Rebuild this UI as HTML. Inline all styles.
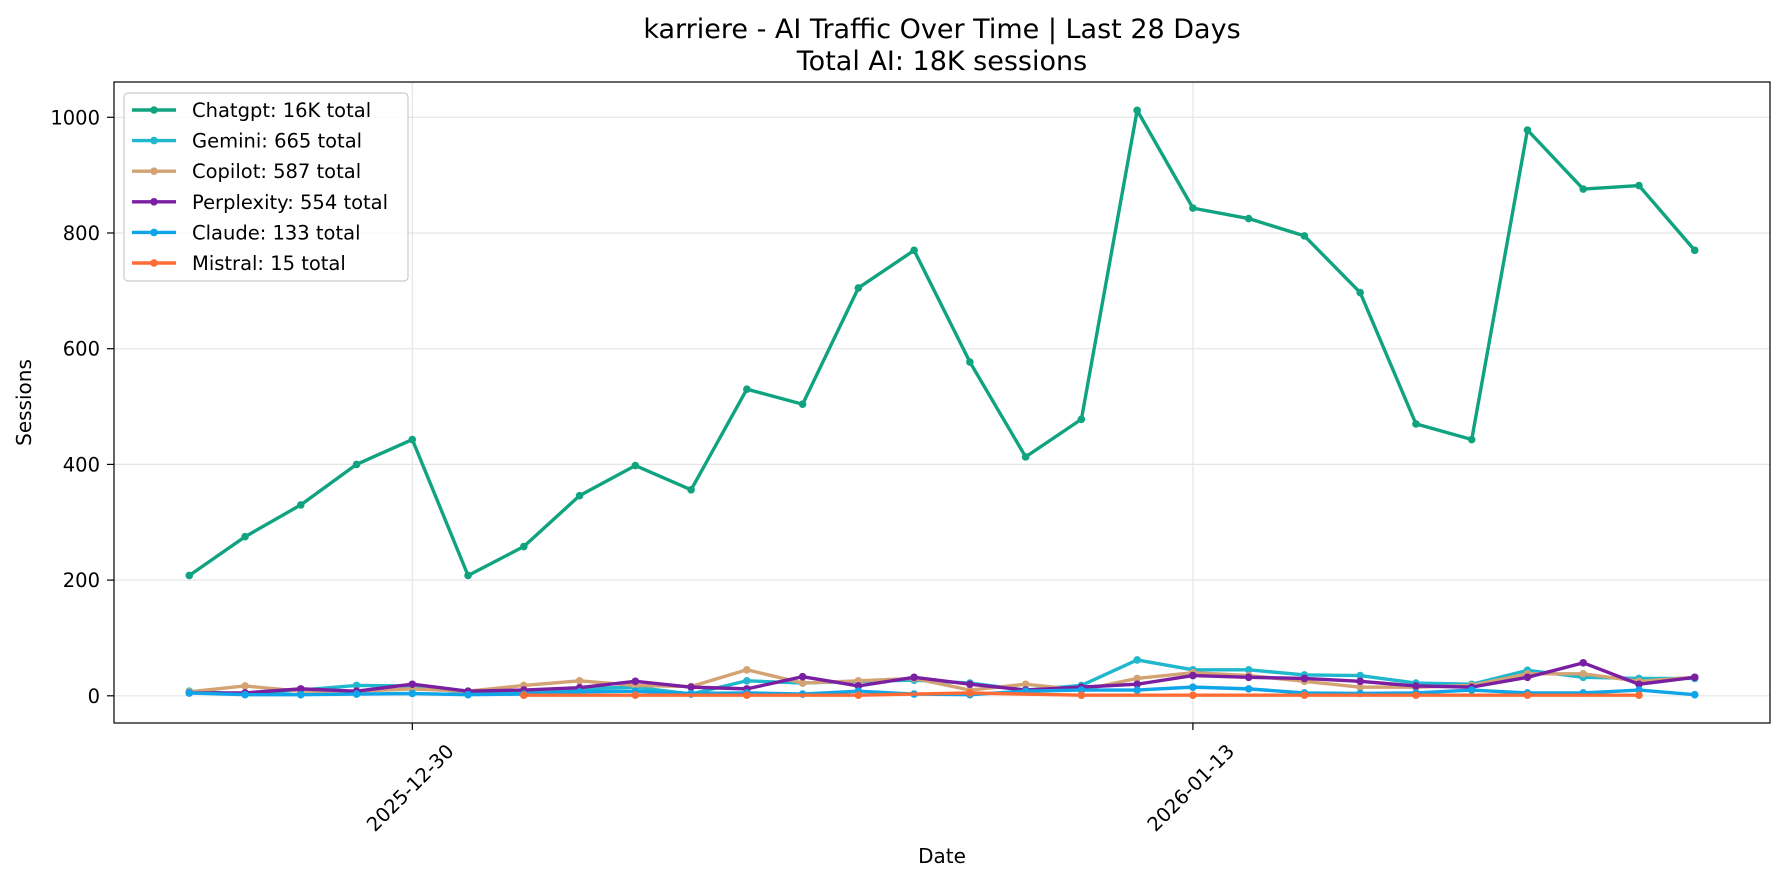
<!DOCTYPE html>
<html><head><meta charset="utf-8"><style>
body{margin:0;background:#fff;}
svg text{font-family:"DejaVu Sans","Liberation Sans",sans-serif;fill:#000;}
</style></head><body>
<svg id="chart" width="1785" height="884" xmlns="http://www.w3.org/2000/svg">
<rect width="1785" height="884" fill="#fff"/>
<text x="942" y="38" font-size="27" text-anchor="middle">karriere - AI Traffic Over Time | Last 28 Days</text>
<text x="942" y="70" font-size="27" text-anchor="middle">Total AI: 18K sessions</text>
<g id="grid"></g><g id="series"></g><g id="axes"></g><g id="legend"></g>
</svg>
<script>
const dates = ["2025-12-26","2025-12-27","2025-12-28","2025-12-29","2025-12-30","2025-12-31","2026-01-01","2026-01-02","2026-01-03","2026-01-04","2026-01-05","2026-01-06","2026-01-07","2026-01-08","2026-01-09","2026-01-10","2026-01-11","2026-01-12","2026-01-13","2026-01-14","2026-01-15","2026-01-16","2026-01-17","2026-01-18","2026-01-19","2026-01-20","2026-01-21","2026-01-22"];
const chatgpt = [208,275,330,400,443,208,258,346,398,356,530,504,705,770,577,413,478,1012,843,825,795,697,470,443,978,876,882,770];
const gemini = [8,3,10,18,17,5,8,12,15,3,26,22,25,27,22,10,18,62,45,45,36,35,22,20,44,32,30,30];
const copilot = [7,17,8,8,12,8,18,26,18,16,45,22,26,30,10,20,10,30,40,35,25,15,15,18,38,38,25,32];
const perplexity = [5,5,12,8,20,8,10,14,25,15,12,33,17,32,20,10,15,20,35,32,30,25,17,15,32,57,20,32];
const claude = [5,2,2,3,4,2,3,7,8,4,5,3,8,3,2,8,10,10,15,12,5,4,5,10,5,5,10,2];
const mistralDays = [6,8,10,12,14,16,18,20,22,24,26];
const mistral = [1,1,1,1,5,1,1,1,1,1,1];
const yTicks = [0,200,400,600,800,1000];
const xTickDays = [4,18];
const xTickLabels = ["2025-12-30","2026-01-13"];
const legendLabels = ["Chatgpt: 16K total","Gemini: 665 total","Copilot: 587 total","Perplexity: 554 total","Claude: 133 total","Mistral: 15 total"];

const L=114,R=1770,T=82,B=723;
const xMin=-1.35,xMax=28.35,yMin=-47,yMax=1061;
const X=d=>L+(d-xMin)/(xMax-xMin)*(R-L);
const Y=v=>B-(v-yMin)/(yMax-yMin)*(B-T);
const NS="http://www.w3.org/2000/svg";
function mk(tag,attrs,parent){const e=document.createElementNS(NS,tag);for(const k in attrs)e.setAttribute(k,attrs[k]);parent.appendChild(e);return e;}
const grid=document.getElementById('grid'),ser=document.getElementById('series'),axes=document.getElementById('axes'),leg=document.getElementById('legend');
yTicks.forEach(v=>{
  const g=mk('line',{x1:L,x2:R,y1:Y(v),y2:Y(v),stroke:'#e5e5e5','stroke-width':1.2},grid);
  
  
  mk('line',{x1:L-7,x2:L,y1:Y(v),y2:Y(v),stroke:'#000','stroke-width':1.2},axes);
  const t=mk('text',{x:L-14,y:Y(v)+7,'font-size':19.5,'text-anchor':'end'},axes);t.textContent=v;
  
  
});
xTickDays.forEach((d,i)=>{
  const g=mk('line',{x1:X(d),x2:X(d),y1:T,y2:B,stroke:'#e5e5e5','stroke-width':1.2},grid);
  
  
  mk('line',{x1:X(d),x2:X(d),y1:B,y2:B+7,stroke:'#000','stroke-width':1.2},axes);
  const t=mk('text',{x:0,y:0,'font-size':19.5,'text-anchor':'middle','dominant-baseline':'central',transform:`translate(${X(d)-2},${B+65}) rotate(-45)`},axes);t.textContent=xTickLabels[i];
  
  
});
const frame=mk('rect',{x:L,y:T,width:R-L,height:B-T,fill:'none',stroke:'#000','stroke-width':1.2},axes);


const yl=mk('text',{x:0,y:0,'font-size':20,'text-anchor':'middle',transform:`translate(31,${(T+B)/2}) rotate(-90)`},axes);yl.textContent='Sessions';


const xl=mk('text',{x:(L+R)/2,y:863,'font-size':20,'text-anchor':'middle'},axes);xl.textContent='Date';



const all=[[null,chatgpt,'#10a37f'],[null,gemini,'#1fb8cd'],[null,copilot,'#d4a373'],[null,perplexity,'#7b1fa2'],[null,claude,'#0ea5e9'],[mistralDays,mistral,'#ff6b35']];
const names=['chatgpt','gemini','copilot','perplexity','claude','mistral'];
[0,1,2,3,4,5].forEach(i=>{
  const [days,vals,col]=all[i];
  const g=mk('g',{},ser);
  
  
  const pts=vals.map((v,j)=>[X(days?days[j]:j),Y(v)]);
  mk('polyline',{points:pts.map(p=>p.join(',')).join(' '),fill:'none',stroke:col,'stroke-width':3.4,'stroke-linejoin':'round'},g);
  pts.forEach(p=>{const c=mk('circle',{cx:p[0],cy:p[1],r:3.8,fill:col},g);
    
    });
});
const lb=mk('rect',{x:124,y:93,width:284,height:188,rx:4,fill:'#fff','fill-opacity':0.85,stroke:'#ccc','stroke-width':1.2},leg);


legendLabels.forEach((s,i)=>{
  const y=110+i*30.6,col=all[i][2];
  const g=mk('g',{},leg);
  
  
  mk('line',{x1:132,x2:176,y1:y,y2:y,stroke:col,'stroke-width':3.4},g);
  mk('circle',{cx:154,cy:y,r:3.8,fill:col},g);
  const t=mk('text',{x:192,y:y+7,'font-size':19.5},g);t.textContent=s;
});
</script>
</body></html>
